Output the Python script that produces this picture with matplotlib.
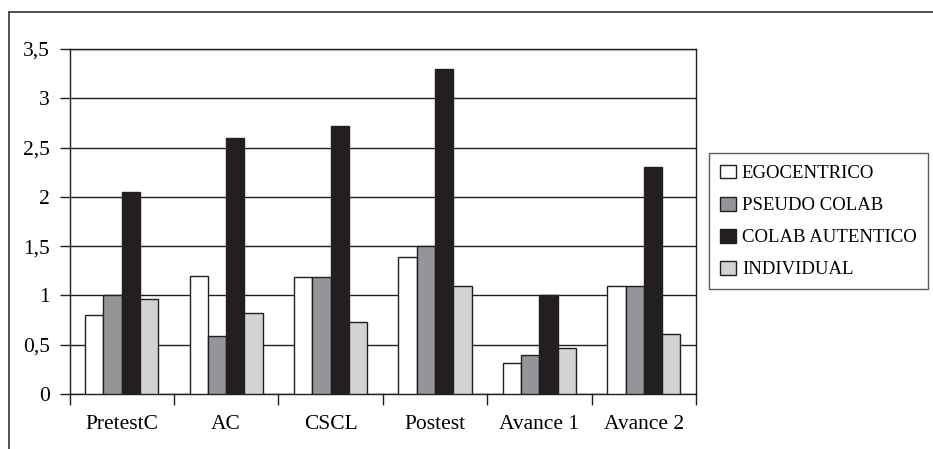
import matplotlib
matplotlib.use("Agg")
import matplotlib.pyplot as plt
import numpy as np
from matplotlib.lines import Line2D

plt.rcParams["font.family"] = ["Liberation Serif", "DejaVu Serif"]

# Datos del grafico
categorias = ["PretestC", "AC", "CSCL", "Postest", "Avance 1", "Avance 2"]
series = ["EGOCENTRICO", "PSEUDO COLAB", "COLAB AUTENTICO", "INDIVIDUAL"]
egocentrico = [0.8, 1.2, 1.19, 1.39, 0.31, 1.1]
pseudo_colab = [1.0, 0.59, 1.19, 1.5, 0.4, 1.1]
colab_autentico = [2.05, 2.6, 2.72, 3.3, 1.0, 2.3]
individual = [0.96, 0.82, 0.73, 1.1, 0.47, 0.61]
y_ticks = [0, 0.5, 1, 1.5, 2, 2.5, 3, 3.5]

valores = [egocentrico, pseudo_colab, colab_autentico, individual]
colores = ["#ffffff", "#939598", "#231f20", "#d1d3d4"]
borde = "#231f20"

fig = plt.figure(figsize=(9.33, 4.49), dpi=100)
ax = fig.add_axes([0.0745, 0.1225, 0.6715, 0.7685])

x = np.arange(len(categorias))
ancho = 0.175
for i, (vals, col, nombre) in enumerate(zip(valores, colores, series)):
    ax.bar(x + (i - 1.5) * ancho, vals, ancho, color=col, edgecolor=borde,
           linewidth=1.0, label=nombre, zorder=3)

ax.set_xlim(-0.5, len(categorias) - 0.5)
ax.set_ylim(0, 3.5)
ax.set_yticks(y_ticks)
ax.set_yticklabels([f"{t:g}".replace(".", ",") for t in y_ticks])
ax.yaxis.grid(True, color=borde, linewidth=1.0, zorder=0)
ax.set_axisbelow(True)

# etiquetas en el centro, marcas en los limites de cada grupo
ax.set_xticks(x)
ax.set_xticklabels(categorias)
ax.set_xticks(np.arange(len(categorias) + 1) - 0.5, minor=True)
ax.tick_params(axis="x", which="major", length=0, pad=15, labelsize=15.5)
ax.tick_params(axis="x", which="minor", length=8, width=1.0, color=borde,
               direction="out")
ax.tick_params(axis="y", length=7, width=1.0, color=borde, pad=7,
               labelsize=15.5)

for s in ["left", "right", "bottom", "top"]:
    ax.spines[s].set_color(borde)
    ax.spines[s].set_linewidth(1.0)

leg = ax.legend(loc="center left", bbox_to_anchor=(0.760, 0.5067),
                bbox_transform=fig.transFigure, fontsize=13.5, frameon=True,
                fancybox=False, edgecolor="#333333", handlelength=0.85,
                handleheight=0.75, handletextpad=0.3, labelspacing=0.78,
                borderpad=0.6, borderaxespad=0)
leg.get_frame().set_linewidth(1.0)

# marco exterior (solo arriba e izquierda visibles)
fx = 9 / 933
fy = 1 - 12 / 449
fig.add_artist(Line2D([fx, fx], [0, fy], transform=fig.transFigure,
                      color="#444444", linewidth=1.3))
fig.add_artist(Line2D([fx, 1], [fy, fy], transform=fig.transFigure,
                      color="#444444", linewidth=1.3))

fig.savefig("out.png", dpi=100)
